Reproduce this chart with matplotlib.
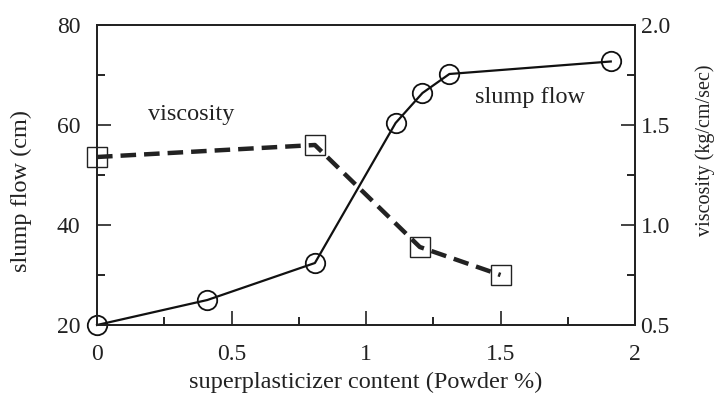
import matplotlib
matplotlib.use("Agg")
import matplotlib.pyplot as plt
from matplotlib.ticker import MultipleLocator

plt.rcParams['font.family'] = ['Liberation Serif', 'DejaVu Serif']

sp_x = [0.0, 0.41, 0.81, 1.11, 1.21, 1.31, 1.91]
slump = [20.0, 25.0, 32.4, 60.4, 66.4, 70.2, 72.7]

visc_x = [0.0, 0.81, 1.2, 1.5]
visc = [1.34, 1.40, 0.89, 0.75]

fig = plt.figure(figsize=(7.15, 4.01), dpi=100)
ax = fig.add_axes([0.1357, 0.1895, 0.7524, 0.7482])
ax2 = ax.twinx()

ax.plot(sp_x, slump, color='#111111', lw=1.6, marker='o', ms=14,
        mfc='none', mec='#111111', mew=1.3, zorder=3, clip_on=False)
ax2.plot(visc_x, visc, color='#222222', lw=3.2, ls=(0, (3.5, 1.8)), marker='s', ms=14,
         mfc='none', mec='#222222', mew=1.0, zorder=3, clip_on=False)

ax.set_xlim(0, 2)
ax.set_ylim(20, 80)
ax2.set_ylim(0.5, 2.0)

ax.xaxis.set_major_locator(MultipleLocator(0.5))
ax.xaxis.set_minor_locator(MultipleLocator(0.25))
ax.yaxis.set_major_locator(MultipleLocator(20))
ax.yaxis.set_minor_locator(MultipleLocator(10))
ax2.yaxis.set_major_locator(MultipleLocator(0.5))
ax2.yaxis.set_minor_locator(MultipleLocator(0.25))

ax.set_xticks([0, 0.5, 1, 1.5, 2])
ax.set_xticklabels(['0', '0.5', '1', '1.5', '2'])
ax2.set_yticks([0.5, 1.0, 1.5, 2.0])
ax2.set_yticklabels(['0.5', '1.0', '1.5', '2.0'])

for a in (ax, ax2):
    a.tick_params(which='major', direction='in', length=10, width=1.2, labelsize=17, colors='#222222')
    a.tick_params(which='minor', direction='in', length=6, width=1.2)
    for s in a.spines.values():
        s.set_linewidth(1.3)
        s.set_color('#222222')
ax.tick_params(axis='x', pad=14)
ax.tick_params(axis='y', pad=12, right=False)
ax.tick_params(axis='y', which='minor', right=False)
ax2.tick_params(axis='y', pad=4)

ax.set_xlabel('superplasticizer content (Powder %)', fontsize=17.5, color='#222222')
ax.xaxis.set_label_coords(0.50, -0.155)
ax.set_ylabel('slump flow (cm)', fontsize=17.5, color='#222222')
ax.yaxis.set_label_coords(-0.12, 0.445)
ax2.set_ylabel('viscosity (kg/cm/sec)', fontsize=14.5, color='#222222')
ax2.yaxis.set_label_coords(1.112, 0.583)

ax.text(0.35, 62, 'viscosity', fontsize=17.5, ha='center', va='center', color='#222222')
ax.text(1.61, 65.5, 'slump flow', fontsize=17.5, ha='center', va='center', color='#222222')

fig.savefig('out.png', dpi=100)
